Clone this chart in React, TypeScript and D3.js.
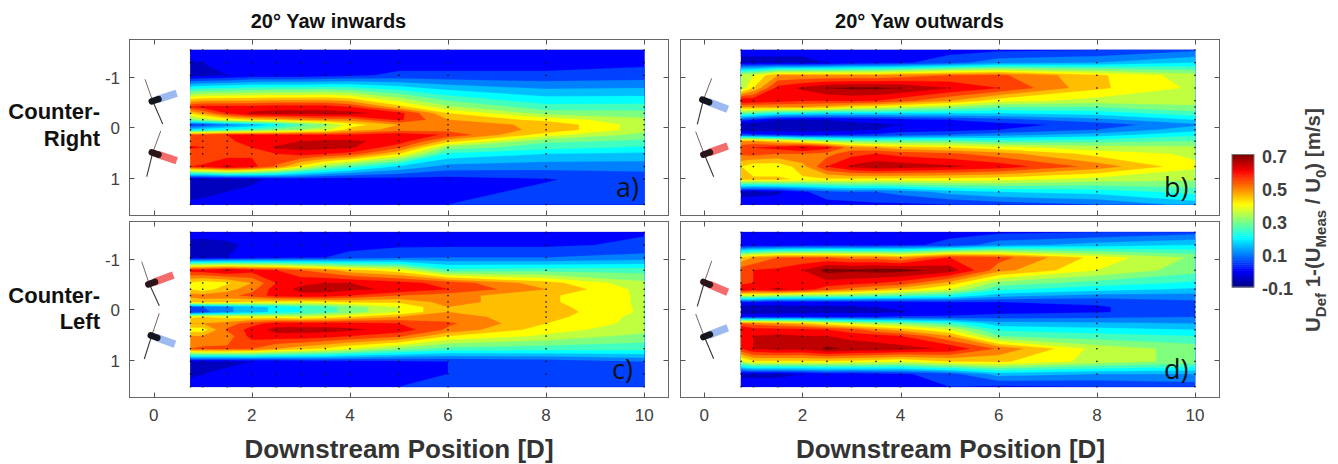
import React from "react";
import * as d3 from "d3";

const X_POS = [0.75, 1, 1.5, 2, 2.5, 3, 3.5, 4, 5, 6, 8, 10];
const Y_SPARSE = [-1.525, -1.275, -1.025, -0.4, -0.275, -0.15, -0.05, 0.05, 0.15, 0.275, 0.4, 0.525, 0.775, 1.025, 1.525];
const Y_DENSE = [-1.525, -1.275, -1.025, -0.775, -0.525, -0.4, -0.275, -0.15, -0.05, 0.05, 0.15, 0.275, 0.4, 0.525, 0.775, 1.025, 1.275, 1.525];
const X_TICKS = [0, 2, 4, 6, 8, 10];
const Y_TICKS = [-1, 0, 1];
const LEVELS = [-0.1, -0.05, 0, 0.05, 0.1, 0.15, 0.2, 0.25, 0.3, 0.35, 0.4, 0.45, 0.5, 0.55, 0.6, 0.65, 0.7];
const CBAR_TICKS = [0.7, 0.5, 0.3, 0.1, -0.1];

// each inner array: one downstream position, values from top to bottom
const DEFICIT_A = [
  [.02, -.005, -.02, .6, .45, .32, .06, .2, .55, .57, .61, .55, .6, -.03, .006],
  [.02, 0, -.015, .62, .5, .36, .07, .22, .56, .57, .6, .55, .61, -.03, .01],
  [.02, .01, 0, .62, .6, .42, .12, .25, .6, .59, .58, .57, .66, -.02, .02],
  [.02, .015, .02, .62, .66, .45, .16, .28, .6, .62, .6, .59, .62, -.01, .03],
  [.02, .02, .02, .63, .67, .47, .22, .32, .6, .62, .66, .6, .54, .01, .03],
  [.02, .02, .02, .63, .67, .5, .28, .35, .6, .65, .67, .62, .43, .02, .04],
  [.02, .02, .03, .63, .67, .52, .33, .38, .6, .66, .67, .6, .34, .02, .04],
  [.02, .02, .04, .6, .67, .52, .42, .47, .6, .66, .66, .58, .28, .02, .04],
  [.02, .03, .06, .47, .62, .61, .5, .52, .64, .63, .56, .45, .19, .03, .045],
  [.02, .03, .06, .36, .45, .5, .52, .53, .59, .47, .33, .24, .13, .03, .05],
  [.03, .03, .06, .27, .33, .43, .49, .49, .42, .31, .27, .2, .12, .047, .07],
  [.03, .04, .07, .27, .32, .36, .37, .37, .33, .29, .24, .19, .12, .07, .07],
];
const DEFICIT_B = [
  [.01, -.01, .38, .36, .65, .5, .3, .08, -.05, -.03, .08, .5, .58, .56, .45, .47, -.02, .03],
  [.01, -.01, .4, .45, .64, .5, .28, .05, -.04, -.03, .06, .5, .6, .57, .41, .46, -.02, .03],
  [.01, -.01, .5, .62, .62, .5, .23, 0, -.02, -.02, .05, .45, .62, .55, .41, .46, -.01, .03],
  [.01, -.01, .5, .66, .6, .5, .22, -.01, -.02, -.02, .03, .4, .66, .55, .48, .44, .04, .03],
  [.02, 0, .5, .7, .6, .48, .2, 0, -.02, -.02, .04, .35, .62, .53, .6, .44, .08, .03],
  [.03, .02, .5, .71, .61, .44, .2, .01, -.015, -.01, .05, .32, .52, .58, .66, .44, .1, .03],
  [.05, .03, .5, .71, .6, .42, .2, .02, -.01, 0, .06, .3, .5, .6, .69, .43, .1, .04],
  [.03, .04, .52, .7, .57, .39, .2, .03, 0, .02, .08, .3, .47, .58, .68, .43, .12, .04],
  [.03, .08, .55, .65, .5, .35, .2, .05, .02, .03, .1, .3, .45, .56, .66, .43, .17, .05],
  [.04, .13, .56, .6, .42, .3, .2, .08, .03, .05, .13, .27, .42, .52, .63, .42, .2, .07],
  [.05, .15, .46, .46, .38, .3, .22, .13, .07, .1, .17, .28, .37, .43, .53, .38, .22, .1],
  [.09, .2, .37, .39, .37, .34, .28, .2, .14, .18, .24, .3, .36, .39, .41, .36, .27, .17],
];
const DEFICIT_C = [
  [.01, -.01, -.01, .62, .44, .45, .52, .45, .08, .05, .44, .5, .42, .5, .55, -.01, -.01, .02],
  [.01, -.01, -.01, .63, .42, .42, .52, .48, .1, .08, .45, .5, .42, .5, .56, -.01, 0, .02],
  [.02, -.01, 0, .66, .44, .48, .53, .46, .14, .14, .43, .52, .56, .52, .56, -.01, .01, .02],
  [.02, .01, .02, .62, .5, .53, .57, .44, .18, .18, .42, .58, .62, .62, .55, 0, .02, .03],
  [.03, .02, .03, .6, .6, .63, .62, .44, .21, .21, .42, .62, .67, .63, .5, .01, .02, .03],
  [.03, .03, .04, .55, .64, .66, .64, .43, .25, .25, .4, .62, .67, .63, .47, .02, .03, .04],
  [.03, .03, .05, .52, .65, .67, .63, .44, .28, .28, .42, .62, .67, .62, .44, .03, .03, .04],
  [.03, .03, .07, .47, .65, .66, .6, .46, .32, .32, .45, .62, .66, .6, .4, .03, .03, .04],
  [.03, .04, .09, .42, .62, .64, .55, .46, .4, .4, .5, .6, .63, .56, .33, .04, .04, .05],
  [.03, .04, .1, .27, .58, .6, .52, .52, .5, .5, .52, .56, .54, .45, .28, .05, .05, .06],
  [.03, .04, .1, .28, .47, .5, .46, .46, .47, .48, .47, .45, .42, .39, .27, .07, .06, .06],
  [.045, .06, .12, .28, .36, .38, .39, .39, .39, .39, .38, .38, .37, .33, .27, .1, .07, .06],
];
const DEFICIT_D = [
  [.01, 0, .46, .58, .58, .66, .38, .05, -.03, -.04, .05, .55, .66, .6, .6, .38, -.01, .02],
  [.01, .01, .5, .6, .6, .63, .38, .05, -.03, -.04, .05, .53, .62, .65, .65, .44, -.01, .02],
  [.01, .01, .55, .61, .62, .66, .35, .03, -.02, -.02, .05, .5, .62, .66, .67, .44, -.01, .02],
  [.01, .02, .55, .65, .63, .63, .33, .03, -.01, -.02, .05, .47, .62, .65, .66, .44, 0, .02],
  [.03, .03, .55, .72, .63, .57, .33, .03, -.01, -.01, .05, .42, .6, .65, .71, .44, .02, .03],
  [.03, .03, .53, .71, .62, .53, .32, .03, -.01, -.01, .05, .38, .57, .63, .69, .43, .02, .03],
  [.03, .03, .53, .72, .6, .5, .3, .03, 0, -.01, .05, .35, .52, .62, .68, .42, .03, .03],
  [.03, .04, .5, .72, .58, .47, .28, .04, .01, -.005, .06, .33, .48, .6, .67, .4, .04, .04],
  [.04, .06, .6, .68, .48, .4, .25, .05, .02, .02, .06, .27, .4, .5, .64, .45, .08, .05],
  [.04, .13, .57, .52, .33, .26, .17, .05, .03, .03, .08, .17, .24, .3, .54, .46, .17, .04],
  [.05, .17, .43, .4, .28, .22, .13, .06, .045, .045, .09, .16, .22, .27, .38, .38, .15, .05],
  [.08, .2, .34, .32, .24, .19, .13, .09, .08, .08, .1, .15, .2, .25, .33, .33, .15, .07],
];

const TITLE_LEFT = "20° Yaw inwards";
const TITLE_RIGHT = "20° Yaw outwards";
const X_TITLE = "Downstream Position [D]";

const SANS = "'Liberation Sans', Arial, sans-serif";

function jet(t: number): string {
  const c = (v: number) => Math.max(0, Math.min(1, v));
  const r = c(Math.min(4 * t - 1.5, -4 * t + 4.5));
  const g = c(Math.min(4 * t - 0.5, -4 * t + 3.5));
  const b = c(Math.min(4 * t + 0.5, -4 * t + 2.5));
  return d3.rgb(r * 255, g * 255, b * 255).formatHex();
}
const levelT = d3.scaleLinear().domain([-0.1, 0.7]).range([0, 1]);

type Turbine = { hub: number[]; a: number[]; b: number[]; tail: number[]; col: string };
type PanelDef = {
  key: string; letter: string; ys: number[]; vals: number[][];
  box: number[]; x0: number; x10: number; yn: number; yp: number; top: number; bottom: number;
  xLabels: boolean; yLabels: boolean; turbines: Turbine[]; letterPos: number[];
};
const BLUE = "#9db9f2";
const RED = "#f56c6c";

const PANELS: PanelDef[] = [
  { key: "a", letter: "a)", ys: Y_SPARSE, vals: DEFICIT_A, box: [129.5, 39.5, 668.5, 215.5], x0: 153.7, x10: 644.2, yn: 76.7, yp: 177.7, top: 50, bottom: 204.5, xLabels: false, yLabels: true, letterPos: [616, 197],
    turbines: [
      { hub: [152.7, 101], a: [145, 79.3], b: [162.7, 124], tail: [176.7, 93.3], col: BLUE },
      { hub: [152.7, 152.7], a: [160.7, 131], b: [146.7, 176.7], tail: [176.7, 160.7], col: RED },
    ] },
  { key: "b", letter: "b)", ys: Y_DENSE, vals: DEFICIT_B, box: [680.5, 39.5, 1219.5, 215.5], x0: 704.3, x10: 1195, yn: 76.7, yp: 177.7, top: 50, bottom: 204.5, xLabels: false, yLabels: false, letterPos: [1164, 197],
    turbines: [
      { hub: [703.3, 100], a: [711.7, 78.3], b: [697.3, 124.3], tail: [727.7, 109.3], col: BLUE },
      { hub: [704.3, 154.3], a: [695.7, 131.7], b: [713.7, 176.7], tail: [727.7, 146], col: RED },
    ] },
  { key: "c", letter: "c)", ys: Y_DENSE, vals: DEFICIT_C, box: [129.5, 221.5, 668.5, 397.5], x0: 153.7, x10: 644.2, yn: 258.7, yp: 359.7, top: 232.3, bottom: 386.7, xLabels: true, yLabels: true, letterPos: [612, 379],
    turbines: [
      { hub: [149.3, 284], a: [141.7, 261.7], b: [159.3, 305.7], tail: [173.3, 275], col: RED },
      { hub: [151.7, 335.7], a: [159.3, 313.3], b: [144.3, 359], tail: [175, 344.3], col: BLUE },
    ] },
  { key: "d", letter: "d)", ys: Y_DENSE, vals: DEFICIT_D, box: [680.5, 221.5, 1219.5, 397.5], x0: 704.3, x10: 1195, yn: 258.7, yp: 359.7, top: 232.3, bottom: 386.7, xLabels: true, yLabels: false, letterPos: [1164, 379],
    turbines: [
      { hub: [704.3, 282.3], a: [711.7, 261], b: [697.3, 306.3], tail: [727.7, 292.3], col: RED },
      { hub: [704.3, 336.7], a: [695.7, 314], b: [713.7, 358.7], tail: [727.7, 327.7], col: BLUE },
    ] },
];

function Panel({ p }: { p: PanelDef }) {
  const [bx0, by0, bx1, by1] = p.box;
  const x = d3.scaleLinear().domain([0, 10]).range([p.x0, p.x10]);
  const yBase = d3.scaleLinear().domain([-1, 1]).range([p.yn, p.yp]);
  const y = d3.scaleLinear().domain([-1.525, 1.525]).range([p.top, p.bottom]);
  const nx = X_POS.length;
  const ny = p.ys.length;
  const flat: number[] = [];
  for (let j = 0; j < ny; j++) for (let i = 0; i < nx; i++) flat.push(p.vals[i][j]);

  // grid-index space to screen space: cell centres sit on half integers
  const uScale = d3.scaleLinear().domain(X_POS.map((_, i) => i + 0.5)).range(X_POS.map((v) => x(v))).clamp(true);
  const vScale = d3.scaleLinear().domain(p.ys.map((_, j) => j + 0.5)).range(p.ys.map((v) => y(v))).clamp(true);
  const path = d3.geoPath(
    d3.geoTransform({
      point(this: any, a: number, b: number) {
        this.stream.point(uScale(a), vScale(b));
      },
    })
  );
  const contours = d3.contours().size([nx, ny]).thresholds(LEVELS)(flat);

  return (
    <g>
      <rect x={bx0} y={by0} width={bx1 - bx0} height={by1 - by0} fill="#fff" />
      {contours.map((c, i) => (
        <path key={i} d={path(c as any) || ""} fill={jet(levelT(c.value))} stroke={jet(levelT(c.value))} strokeWidth={0.25} />
      ))}
      {X_POS.map((xv) =>
        p.ys.map((yv) => (
          <rect key={xv + "_" + yv} x={x(xv) - 0.7} y={y(yv) - 0.7} width={1.4} height={1.4} fill="#111" />
        ))
      )}
      {p.turbines.map((t, i) => {
        const along = (f: number) => [t.hub[0] + (t.tail[0] - t.hub[0]) * f, t.hub[1] + (t.tail[1] - t.hub[1]) * f];
        const s = along(0.2), e = along(-0.04), m = along(0.24);
        return (
          <g key={i}>
            <line x1={t.a[0]} y1={t.a[1]} x2={t.hub[0]} y2={t.hub[1]} stroke="#6b5555" strokeWidth={0.9} />
            <line x1={t.hub[0]} y1={t.hub[1]} x2={t.b[0]} y2={t.b[1]} stroke="#3a3438" strokeWidth={1.1} />
            <line x1={s[0]} y1={s[1]} x2={t.tail[0]} y2={t.tail[1]} stroke={t.col} strokeWidth={7.5} />
            <line x1={e[0]} y1={e[1]} x2={m[0]} y2={m[1]} stroke={t.col === RED ? "#2b1518" : "#14161f"} strokeWidth={6.5} strokeLinecap="round" />
          </g>
        );
      })}
      <rect x={bx0} y={by0} width={bx1 - bx0} height={by1 - by0} fill="none" stroke="#666" strokeWidth={1} />
      {X_TICKS.map((t) => (
        <g key={t} stroke="#555" strokeWidth={1}>
          <line x1={Math.round(x(t)) + 0.5} x2={Math.round(x(t)) + 0.5} y1={by0} y2={by0 + 5} />
          <line x1={Math.round(x(t)) + 0.5} x2={Math.round(x(t)) + 0.5} y1={by1} y2={by1 - 5} />
        </g>
      ))}
      {Y_TICKS.map((t) => (
        <g key={t} stroke="#555" strokeWidth={1}>
          <line y1={Math.round(yBase(t)) + 0.5} y2={Math.round(yBase(t)) + 0.5} x1={bx0} x2={bx0 + 5} />
          <line y1={Math.round(yBase(t)) + 0.5} y2={Math.round(yBase(t)) + 0.5} x1={bx1} x2={bx1 - 5} />
        </g>
      ))}
      {p.yLabels && Y_TICKS.map((t) => (
        <text key={t} x={120} y={yBase(t) + 7} textAnchor="end" fontFamily={SANS} fontSize={17} fill="#404040">{t}</text>
      ))}
      {p.xLabels && X_TICKS.map((t) => (
        <text key={t} x={x(t)} y={421} textAnchor="middle" fontFamily={SANS} fontSize={17} fill="#404040">{t}</text>
      ))}
      <text x={p.letterPos[0]} y={p.letterPos[1]} fontFamily="'Open Sans', sans-serif" fontSize={27} fill="#111">{p.letter}</text>
    </g>
  );
}

export default function App() {
  const cbY = d3.scaleLinear().domain([-0.1, 0.7]).range([287, 154.5]);
  const cbSteps = d3.range(0, 64);
  return (
    <svg width={1338} height={464} style={{ position: "absolute", left: 0, top: 0, background: "#fff" }}>
      {PANELS.map((p) => <Panel key={p.key} p={p} />)}

      <text x={328.5} y={28} textAnchor="middle" fontFamily={SANS} fontWeight="bold" fontSize={20} fill="#111">{TITLE_LEFT}</text>
      <text x={919.5} y={28} textAnchor="middle" fontFamily={SANS} fontWeight="bold" fontSize={20} fill="#111">{TITLE_RIGHT}</text>
      <text x={100} y={119} textAnchor="end" fontFamily={SANS} fontWeight="bold" fontSize={22} fill="#111">Counter-</text>
      <text x={100} y={146} textAnchor="end" fontFamily={SANS} fontWeight="bold" fontSize={22} fill="#111">Right</text>
      <text x={100} y={303} textAnchor="end" fontFamily={SANS} fontWeight="bold" fontSize={22} fill="#111">Counter-</text>
      <text x={100} y={329} textAnchor="end" fontFamily={SANS} fontWeight="bold" fontSize={22} fill="#111">Left</text>
      <text x={399} y={458} textAnchor="middle" fontFamily={SANS} fontWeight="bold" fontSize={26} fill="#333">{X_TITLE}</text>
      <text x={950.5} y={458} textAnchor="middle" fontFamily={SANS} fontWeight="bold" fontSize={26} fill="#333">{X_TITLE}</text>

      {cbSteps.map((i) => {
        const v0 = -0.1 + (0.8 * i) / 64;
        const v1 = -0.1 + (0.8 * (i + 1)) / 64;
        return (
          <rect key={i} x={1232} width={22} y={cbY(v1)} height={cbY(v0) - cbY(v1) + 0.5} fill={jet((i + 0.5) / 64)} />
        );
      })}
      <rect x={1232} y={154.5} width={22} height={132.5} fill="none" stroke="#777" strokeWidth={1} />
      {CBAR_TICKS.map((t) => (
        <text key={t} x={1262} y={cbY(t) + 8} fontFamily={SANS} fontWeight="bold" fontSize={18} fill="#404040">{t}</text>
      ))}
      <text transform="translate(1320,332) rotate(-90)" fontFamily={SANS} fontWeight="bold" fontSize={20.5} fill="#404040">
        U<tspan fontSize={15} dy={6}>Def</tspan>
        <tspan dy={-6}> 1-(U</tspan>
        <tspan fontSize={15} dy={6}>Meas</tspan>
        <tspan dy={-6}> / U</tspan>
        <tspan fontSize={15} dy={6}>0</tspan>
        <tspan dy={-6}>) [m/s]</tspan>
      </text>
    </svg>
  );
}
